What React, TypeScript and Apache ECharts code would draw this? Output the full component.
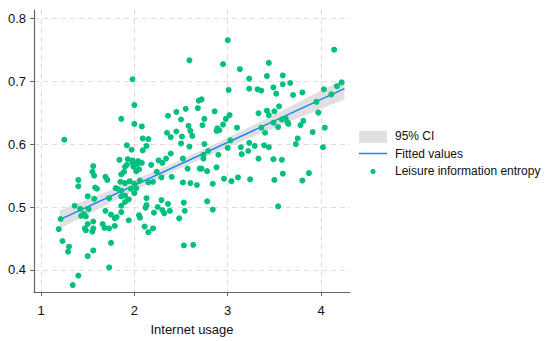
import React, { useEffect, useRef } from "react";
import * as echarts from "echarts";

// Internet usage (x) for each respondent point
const usage = [
  1.98, 2.0, 1.86, 2.0, 2.08, 1.25, 2.09, 1.92, 1.97, 2.09, 1.84, 1.93, 1.98, 2.04,
  3.0, 2.59, 2.95, 3.13, 3.23, 3.01, 3.23, 2.72, 2.69, 2.68, 2.55, 2.45, 2.36, 2.86,
  3.02, 2.98, 2.5, 2.75, 2.95, 2.58, 2.73, 3.1, 2.89, 2.88, 2.91, 2.45, 2.6, 2.35,
  2.39, 2.51, 2.62, 2.15, 3.03, 2.5, 2.13, 2.75, 2.59, 3.0, 3.14, 3.23, 2.79, 2.39,
  2.74, 2.9, 3.15, 3.22, 2.34, 2.52, 2.74, 2.26,
  4.14, 3.44, 3.42, 3.59, 3.59, 3.67, 3.32, 3.36, 3.49, 3.52, 3.7, 3.8, 4.03, 4.17,
  4.22, 4.11, 3.95, 3.55, 3.5, 3.42, 3.44, 3.33, 3.97, 3.62, 3.58, 3.64, 3.65, 3.49,
  3.54, 3.81, 3.78, 3.36, 3.4, 4.04, 3.91, 3.75, 3.73, 4.02, 3.29, 3.39, 3.44, 3.33,
  3.49, 3.58,
  3.24, 3.5, 3.59, 3.8, 3.87, 3.54,
  2.96, 3.04, 3.11, 2.84, 2.78, 2.84, 2.53, 2.54, 2.48, 2.53, 2.63, 2.52, 2.6, 2.67,
  2.78, 2.7, 2.72, 2.88, 2.57, 2.4,
  2.08, 2.18, 2.3, 2.24, 2.29, 2.06, 2.15, 2.2, 2.13, 2.29, 2.36, 2.13, 2.12, 2.25,
  2.21, 2.3, 2.32, 2.38, 2.06, 2.11, 2.2, 2.15,
  1.56, 1.55, 1.57, 1.4, 1.4, 1.69, 1.71, 1.86, 1.89, 1.9, 1.92, 1.98, 1.99, 2.02,
  2.05, 1.85, 1.9, 1.95, 2.0, 1.58, 1.6, 1.8, 1.82, 1.73, 1.5, 1.57, 1.86, 1.9,
  1.86, 1.96, 2.0, 2.02, 1.36, 1.42, 1.46, 1.43, 1.48, 1.51, 1.69, 1.75, 1.81, 1.79,
  1.86, 1.9, 1.94, 1.86, 1.94, 2.05, 1.21, 1.19, 1.5, 1.56, 1.66, 1.47, 1.48, 1.55,
  1.56, 1.68, 1.73, 1.79, 1.23, 1.3, 1.29, 1.75, 1.56, 1.5, 1.73, 1.4, 1.34, 2.03
];

// Leisure information entropy (y) for each point
const entropy = [
  0.703, 0.662, 0.64, 0.632, 0.628, 0.607, 0.609, 0.598, 0.591, 0.59, 0.575, 0.576, 0.574, 0.573,
  0.765, 0.733, 0.727, 0.719, 0.704, 0.686, 0.688, 0.671, 0.669, 0.657, 0.656, 0.651, 0.645, 0.652,
  0.646, 0.64, 0.639, 0.64, 0.631, 0.629, 0.63, 0.626, 0.625, 0.621, 0.622, 0.62, 0.621, 0.618,
  0.611, 0.612, 0.613, 0.608, 0.606, 0.601, 0.597, 0.6, 0.596, 0.594, 0.595, 0.602, 0.589, 0.585,
  0.583, 0.583, 0.584, 0.589, 0.577, 0.577, 0.577, 0.574,
  0.75, 0.729, 0.708, 0.709, 0.695, 0.697, 0.687, 0.685, 0.69, 0.68, 0.678, 0.682, 0.687, 0.692,
  0.698, 0.679, 0.667, 0.66, 0.652, 0.653, 0.646, 0.649, 0.65, 0.641, 0.639, 0.635, 0.632, 0.634,
  0.627, 0.637, 0.63, 0.626, 0.618, 0.626, 0.619, 0.609, 0.6, 0.595, 0.597, 0.598, 0.595, 0.577,
  0.576, 0.575,
  0.544, 0.543, 0.553, 0.542, 0.554, 0.501,
  0.545, 0.541, 0.547, 0.537, 0.509, 0.496, 0.507, 0.494, 0.482, 0.439, 0.44, 0.539, 0.538, 0.535,
  0.557, 0.561, 0.561, 0.563, 0.561, 0.548,
  0.57, 0.567, 0.57, 0.556, 0.547, 0.542, 0.539, 0.54, 0.514, 0.511, 0.505, 0.503, 0.499, 0.5,
  0.491, 0.495, 0.49, 0.494, 0.483, 0.469, 0.466, 0.46,
  0.565, 0.556, 0.55, 0.543, 0.533, 0.548, 0.543, 0.552, 0.556, 0.564, 0.567, 0.57, 0.564, 0.557,
  0.56, 0.54, 0.538, 0.541, 0.537, 0.531, 0.529, 0.53, 0.529, 0.514, 0.517, 0.513, 0.526, 0.518,
  0.517, 0.529, 0.522, 0.53, 0.502, 0.497, 0.489, 0.486, 0.485, 0.497, 0.494, 0.488, 0.484, 0.482,
  0.502, 0.508, 0.512, 0.492, 0.479, 0.487, 0.481, 0.465, 0.473, 0.477, 0.473, 0.466, 0.463, 0.461,
  0.466, 0.467, 0.466, 0.47, 0.446, 0.437, 0.429, 0.443, 0.431, 0.422, 0.404, 0.391, 0.376, 0.568
];

// Fitted line end points
const fitX = [1.2, 4.25];
const fitY = [0.48, 0.688];

// 95% confidence band read at several x positions
const ciX = [1.2, 1.5, 2.0, 2.5, 3.0, 3.5, 4.0, 4.25];
const ciLow = [0.466, 0.488, 0.526, 0.562, 0.595, 0.626, 0.656, 0.671];
const ciHigh = [0.495, 0.512, 0.543, 0.575, 0.61, 0.647, 0.685, 0.703];

const xTicks = [1, 2, 3, 4];
const yTicks = [0.4, 0.5, 0.6, 0.7, 0.8];

const FONT = "'Liberation Sans', Arial, sans-serif";
const GREEN = "#00bf7f";
const BLUE = "#1a85ff";
const GRAY = "#e0e0e0";
const TEXT = "#111";

export default function App() {
  const ref = useRef<HTMLDivElement>(null);

  useEffect(() => {
    if (!ref.current) return;
    const chart = echarts.init(ref.current, undefined, { renderer: "svg" });

    const scatterData = usage.map((x, i) => [x, entropy[i]]);
    const fitData = fitX.map((x, i) => [x, fitY[i]]);

    const gridLine = {
      show: true,
      lineStyle: { color: "#dddddd", type: [5, 4] as any, width: 1 },
    };

    chart.setOption({
      animation: false,
      backgroundColor: "#ffffff",
      textStyle: { fontFamily: FONT },
      grid: { left: 34, right: 200, top: 10, bottom: 43, containLabel: false },
      xAxis: {
        type: "value",
        min: 0.925,
        max: 4.31,
        name: "Internet usage",
        nameLocation: "middle",
        nameGap: 31,
        nameTextStyle: { fontSize: 13, color: TEXT, fontFamily: FONT },
        axisLine: { show: true, lineStyle: { color: "#666", width: 1.2 } },
        axisTick: { show: true, length: 4, customValues: xTicks, lineStyle: { color: "#666" } },
        axisLabel: { customValues: xTicks, fontSize: 13, color: TEXT, margin: 12, fontFamily: FONT },
        splitLine: gridLine,
      },
      yAxis: {
        type: "value",
        min: 0.365,
        max: 0.813,
        axisLine: { show: true, lineStyle: { color: "#666", width: 1.2 } },
        axisTick: { show: true, length: 4, customValues: yTicks, lineStyle: { color: "#666" } },
        axisLabel: {
          customValues: yTicks,
          fontSize: 13,
          color: TEXT,
          margin: 8,
          fontFamily: FONT,
          formatter: (v: number) => v.toFixed(1),
        },
        splitLine: gridLine,
      },
      series: [
        {
          type: "custom",
          name: "95% CI",
          silent: true,
          data: [[ciX[0], ciLow[0]]],
          renderItem: (_params: any, api: any) => {
            const pts: number[][] = [];
            for (let i = 0; i < ciX.length; i++) pts.push(api.coord([ciX[i], ciHigh[i]]));
            for (let i = ciX.length - 1; i >= 0; i--) pts.push(api.coord([ciX[i], ciLow[i]]));
            return {
              type: "polygon",
              shape: { points: pts },
              style: { fill: GRAY },
            };
          },
          z: 1,
        },
        {
          type: "line",
          name: "Fitted values",
          data: fitData,
          showSymbol: false,
          symbol: "none",
          lineStyle: { color: BLUE, width: 1.5 },
          silent: true,
          z: 2,
        },
        {
          type: "scatter",
          name: "Leisure information entropy",
          data: scatterData,
          symbol: "circle",
          symbolSize: 6,
          itemStyle: { color: GREEN, opacity: 1 },
          silent: true,
          z: 3,
        },
      ],
      graphic: [
        { type: "rect", left: 359, top: 131, shape: { width: 28, height: 12 }, style: { fill: GRAY } },
        { type: "line", shape: { x1: 359, y1: 153.5, x2: 387, y2: 153.5 }, style: { stroke: BLUE, lineWidth: 1.5 } },
        { type: "circle", shape: { cx: 373, cy: 171.5, r: 2.6 }, style: { fill: GREEN } },
        { type: "text", left: 395, top: 130, style: { text: "95% CI", font: `12px ${FONT}`, fill: TEXT } },
        { type: "text", left: 395, top: 147.5, style: { text: "Fitted values", font: `12px ${FONT}`, fill: TEXT } },
        { type: "text", left: 395, top: 165, style: { text: "Leisure information entropy", font: `12px ${FONT}`, fill: TEXT } },
      ],
    });

    return () => chart.dispose();
  }, []);

  return (
    <div
      ref={ref}
      style={{ position: "absolute", left: 0, top: 0, width: 550, height: 341, background: "#fff" }}
    />
  );
}
